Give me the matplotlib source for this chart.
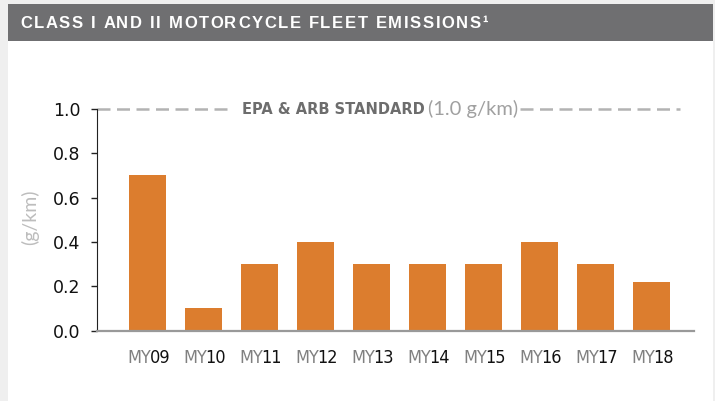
import matplotlib.pyplot as plt
from matplotlib.patches import Rectangle

years = ["09", "10", "11", "12", "13", "14", "15", "16", "17", "18"]
emissions = [0.70, 0.10, 0.30, 0.40, 0.30, 0.30, 0.30, 0.40, 0.30, 0.22]
yticks = [0.0, 0.2, 0.4, 0.6, 0.8, 1.0]
standard = 1.0
title = "CLASS I AND II MOTORCYCLE FLEET EMISSIONS\u00b9"

W, H = 715, 401
fig = plt.figure(figsize=(W / 100, H / 100), dpi=100)
fig.patch.set_facecolor("#efefef")


def px(x, y):
    # pixel position from the top-left corner -> figure fraction
    return x / W, 1 - y / H


# white panel and grey title band
fig.patches.append(Rectangle((8 / W, 0), 705 / W, 361 / H, transform=fig.transFigure,
                             facecolor="white", edgecolor="none", zorder=-10))
fig.patches.append(Rectangle((8 / W, 1 - 41 / H), 705 / W, 37 / H, transform=fig.transFigure,
                             facecolor="#6f6f71", edgecolor="none", zorder=-10))

# letter-spaced title: place each character separately
renderer = fig.canvas.get_renderer()
tkw = dict(color="white", fontsize=12, fontweight="bold", family="Liberation Sans", va="center")


def advance(s):
    a = fig.text(0, 0, s + "|", **tkw)
    b = fig.text(0, 0, "|", **tkw)
    w = a.get_window_extent(renderer).width - b.get_window_extent(renderer).width
    a.remove()
    b.remove()
    return w


natural = advance(title)
track = (468 - natural) / (len(title) - 1)
for i, ch in enumerate(title):
    xpos = 20 + advance(title[:i]) + i * track
    fig.text(*px(xpos, 23), ch, ha="left", **tkw)

ax = fig.add_axes([97 / W, 1 - 330.5 / H, (694 - 97) / W, (330.5 - 109) / H])
ax.set_zorder(1)
ax.set_facecolor("none")
x = list(range(len(years)))
ax.bar(x, emissions, width=0.66, color="#dc7d2e", zorder=2)

ax.set_xlim(-0.902, 9.76)
ax.set_ylim(0, 1.0)
ax.set_yticks(yticks)
ax.set_yticklabels([f"{v:.1f}" for v in yticks], fontsize=12.5, color="#111111")
ax.tick_params(axis="y", length=4, width=1, color="#222222", pad=8)
ax.set_xticks([])
for side in ["top", "right"]:
    ax.spines[side].set_visible(False)
ax.spines["left"].set_color("#222222")
ax.spines["bottom"].set_color("#999999")
ax.spines["bottom"].set_linewidth(1.6)

fig.text(*px(30, 217), "(g/km)", rotation=90, ha="center", va="center",
         fontsize=14, color="#bdbdbd", family="Lato")

# standard line, broken around its label
line_kw = dict(color="#b3b3b3", linewidth=1.8, dashes=(5.2, 2.6), clip_on=False, zorder=1)
ax.plot([-0.902, 1.51], [standard, standard], **line_kw)
ax.plot([6.65, 9.51], [standard, standard], **line_kw)
ax.annotate("EPA & ARB STANDARD", (1.51, standard), xytext=(7.5, 0),
            textcoords="offset points", ha="left", va="center", fontsize=10.5,
            fontweight="bold", color="#6d6d6d", annotation_clip=False)
ax.annotate("(1.0 g/km)", (6.65, standard), xytext=(-1.5, 0),
            textcoords="offset points", ha="right", va="center", fontsize=14.5,
            color="#a0a0a0", family="Lato", annotation_clip=False)

# two-tone model-year labels
for xi, yr in zip(x, years):
    ax.annotate("MY", (xi, 0), xytext=(2.4, -19.5), textcoords="offset points",
                ha="right", va="center", fontsize=13, color="#808080",
                stretch="condensed", annotation_clip=False)
    ax.annotate(yr, (xi, 0), xytext=(1.4, -19.5), textcoords="offset points",
                ha="left", va="center", fontsize=13, color="#111111",
                stretch="condensed", annotation_clip=False)

fig.savefig("out.png", dpi=100)
